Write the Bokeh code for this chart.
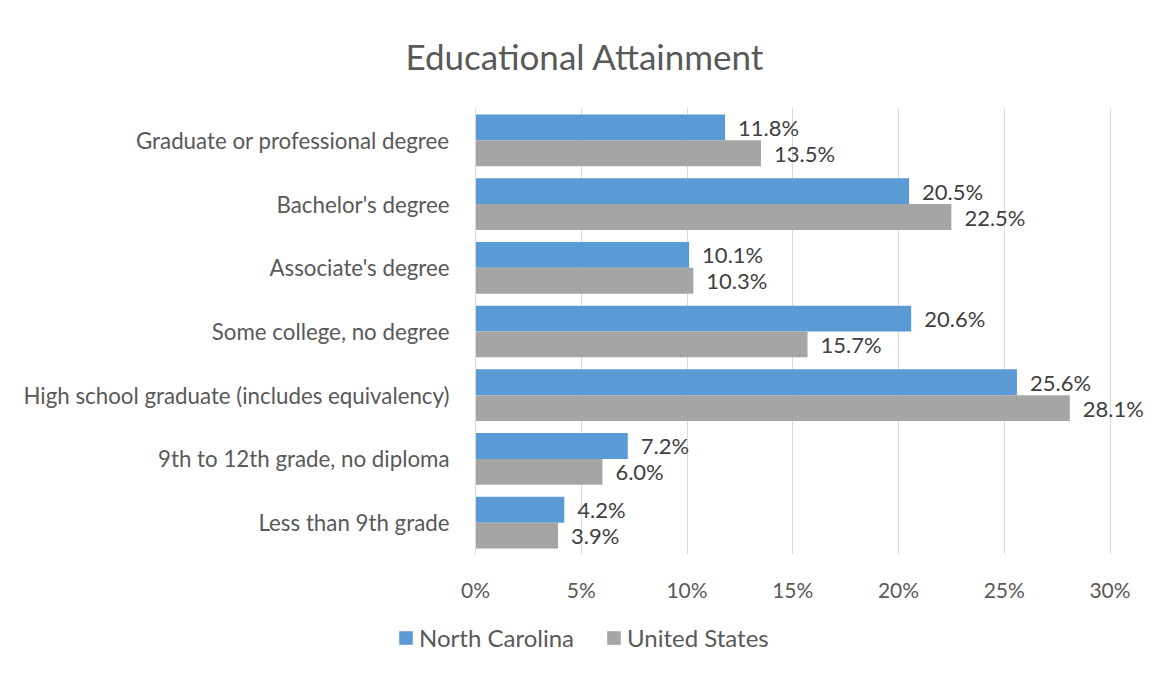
from bokeh.plotting import figure
from bokeh.layouts import column
from bokeh.models import (FactorRange, Range1d, ColumnDataSource, Legend, LegendItem,
                          FixedTicker, CustomJSTickFormatter)
from bokeh.transform import dodge
from bokeh.core.properties import value
from bokeh.embed import file_html
from bokeh.resources import INLINE

categories = [
    "Graduate or professional degree",
    "Bachelor's degree",
    "Associate's degree",
    "Some college, no degree",
    "High school graduate (includes equivalency)",
    "9th to 12th grade, no diploma",
    "Less than 9th grade",
]
north_carolina = [11.8, 20.5, 10.1, 20.6, 25.6, 7.2, 4.2]
united_states = [13.5, 22.5, 10.3, 15.7, 28.1, 6.0, 3.9]
x_ticks = [0, 5, 10, 15, 20, 25, 30]
series_names = ["North Carolina", "United States"]

FONT = "Lato"
TXT = "#595959"
LBL = "#404040"
NC_COLOR = "#5B9BD5"
US_COLOR = "#A5A5A5"
GRID = "#D9D9D9"

src = ColumnDataSource(dict(
    cat=categories,
    nc=north_carolina,
    us=united_states,
    nc_lbl=[f"{v:.1f}%" for v in north_carolina],
    us_lbl=[f"{v:.1f}%" for v in united_states],
))

# frame spans 677 px; 30% sits at 634.5 px from the left edge of the frame
p = figure(
    width=1152, height=615,
    y_range=FactorRange(factors=list(reversed(categories)), range_padding=0),
    x_range=Range1d(0, 30 * 677 / 634.5),
    output_backend="svg", toolbar_location=None,
    min_border_left=475, min_border_right=0, min_border_top=106, min_border_bottom=61,
    title="Educational Attainment",
)
p.frame_align = False

p.title.text_font = FONT
p.title.text_font_size = "35px"
p.title.text_font_style = "normal"
p.title.text_color = TXT
p.title.align = "left"
p.title.offset = -70
p.title.standoff = 64

r_nc = p.hbar(y=dodge("cat", 0.203, range=p.y_range), right="nc", left=0, height=0.406,
              source=src, color=NC_COLOR, line_color=None)
r_us = p.hbar(y=dodge("cat", -0.203, range=p.y_range), right="us", left=0, height=0.406,
              source=src, color=US_COLOR, line_color=None)

p.text(x="nc", y=dodge("cat", 0.203, range=p.y_range), text="nc_lbl", source=src,
       x_offset=13, text_baseline="middle", text_align="left",
       text_font=value(FONT), text_font_size="22px", text_color=LBL)
p.text(x="us", y=dodge("cat", -0.203, range=p.y_range), text="us_lbl", source=src,
       x_offset=13, text_baseline="middle", text_align="left",
       text_font=value(FONT), text_font_size="22px", text_color=LBL)

p.xaxis.ticker = FixedTicker(ticks=x_ticks)
p.xaxis.formatter = CustomJSTickFormatter(code="return tick + '%';")
p.xaxis.axis_line_color = None
p.xaxis.major_tick_line_color = None
p.xaxis.minor_tick_line_color = None
p.xaxis.major_label_text_font = FONT
p.xaxis.major_label_text_font_size = "21px"
p.xaxis.major_label_text_color = TXT
p.xaxis.major_label_standoff = 16

p.yaxis.axis_line_color = GRID
p.yaxis.major_tick_line_color = None
p.yaxis.minor_tick_line_color = None
p.yaxis.major_label_text_font = FONT
p.yaxis.major_label_text_font_size = "22.3px"
p.yaxis.major_label_text_color = TXT
p.yaxis.major_label_standoff = 20

p.ygrid.grid_line_color = None
p.xgrid.grid_line_color = GRID
p.xgrid.grid_line_width = 1
p.outline_line_color = None

# legend strip below the chart, not aligned to the main frame
lg = figure(width=1152, height=60, x_range=Range1d(0, 1), y_range=Range1d(0, 1),
            output_backend="svg", toolbar_location=None,
            min_border_left=0, min_border_right=0, min_border_top=0, min_border_bottom=0)
lg.frame_align = False
lg.axis.visible = False
lg.grid.grid_line_color = None
lg.outline_line_color = None
l_nc = lg.hbar(y=[5], right=[5], left=[4], height=0.5, color=NC_COLOR, line_color=None)
l_us = lg.hbar(y=[5], right=[5], left=[4], height=0.5, color=US_COLOR, line_color=None)
legend = Legend(items=[
    LegendItem(label=series_names[0], renderers=[l_nc]),
    LegendItem(label=series_names[1], renderers=[l_us]),
], orientation="horizontal", location=(397, 23),
    label_text_font=FONT, label_text_font_size="24px", label_text_color=TXT,
    glyph_width=17, glyph_height=17, spacing=31, label_standoff=5,
    border_line_color=None, background_fill_alpha=0, padding=0, margin=0)
lg.add_layout(legend)

layout = column(p, lg, spacing=0)
open("out.html", "w").write(file_html(layout, INLINE))
